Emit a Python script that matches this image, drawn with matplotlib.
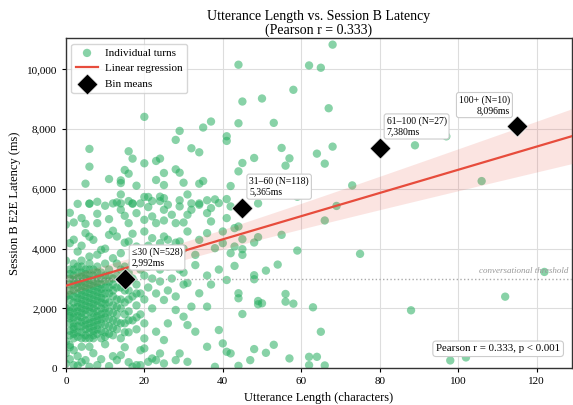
import numpy as np
import matplotlib.pyplot as plt
from matplotlib.ticker import FuncFormatter

plt.rcParams['font.family'] = ['Liberation Serif', 'DejaVu Serif']

# turns: (length in chars, latency in ms)
short_turns = [
    (0, 150), (0, 500), (0, 900), (0, 1900), (0, 2000), (0, 2400), (0, 3600), (0, 4800),
    (1, 300), (1, 700), (1, 772), (1, 1100), (1, 1250), (1, 1500), (1, 1667), (1, 1750), (1, 1900),
    (1, 2050), (1, 2300), (1, 2450), (1, 2600), (1, 2800), (1, 3000), (1, 3150), (1, 3300), (1, 4184), (1, 5200),
    (2, 100), (2, 600), (2, 1000), (2, 1150), (2, 1300), (2, 1388), (2, 1500), (2, 1700), (2, 1850), (2, 2000),
    (2, 2200), (2, 2400), (2, 2600), (2, 2800), (2, 2950), (2, 3100), (2, 3300), (2, 3500), (2, 4300), (2, 4877),
    (3, 84), (3, 400), (3, 1050), (3, 1200), (3, 1400), (3, 1600), (3, 1750), (3, 1900), (3, 2050), (3, 2200),
    (3, 2350), (3, 2500), (3, 2700), (3, 2850), (3, 3000), (3, 3200), (3, 3400), (3, 3904), (3, 5500),
    (4, 200), (4, 716), (4, 1000), (4, 1200), (4, 1400), (4, 1550), (4, 1700), (4, 1850), (4, 2000), (4, 2150),
    (4, 2300), (4, 2450), (4, 2600), (4, 2750), (4, 2900), (4, 3050), (4, 3200), (4, 3400), (4, 3600), (4, 4100), (4, 5023),
    (5, 269), (5, 1000), (5, 1100), (5, 1300), (5, 1450), (5, 1600), (5, 1800), (5, 1950), (5, 2100), (5, 2250),
    (5, 2400), (5, 2550), (5, 2700), (5, 2850), (5, 3000), (5, 3150), (5, 3300), (5, 4520), (5, 4832), (5, 6175),
    (6, 45), (6, 716), (6, 1000), (6, 1200), (6, 1350), (6, 1500), (6, 1650), (6, 1900), (6, 2050), (6, 2200),
    (6, 2350), (6, 2500), (6, 2650), (6, 2800), (6, 2950), (6, 3100), (6, 3300), (6, 3500), (6, 3736), (6, 4400),
    (6, 5510), (6, 5504), (6, 6745), (6, 7339),
    (7, 500), (7, 1000), (7, 1100), (7, 1250), (7, 1400), (7, 1550), (7, 1700), (7, 1850), (7, 2000), (7, 2150),
    (7, 2300), (7, 2450), (7, 2600), (7, 2750), (7, 2900), (7, 3100), (7, 3300), (7, 4295),
    (8, 101), (8, 1150), (8, 1300), (8, 1450), (8, 1600), (8, 1750), (8, 1900), (8, 2100), (8, 2250), (8, 2400),
    (8, 2550), (8, 2700), (8, 2850), (8, 3000), (8, 3200), (8, 3400), (8, 3800), (8, 4855), (8, 5168), (8, 5570),
    (9, 300), (9, 1000), (9, 1250), (9, 1500), (9, 1650), (9, 1800), (9, 2000), (9, 2200), (9, 2350), (9, 2500),
    (9, 2650), (9, 2800), (9, 3000), (9, 3200), (9, 3960),
    (10, 800), (10, 1050), (10, 1200), (10, 1450), (10, 1700), (10, 1850), (10, 2000), (10, 2150), (10, 2300),
    (10, 2500), (10, 2700), (10, 2900), (10, 3100), (10, 3500), (10, 4000), (10, 5437),
    (11, 67), (11, 1150), (11, 1400), (11, 1650), (11, 1900), (11, 2200), (11, 2500), (11, 2700), (11, 2900),
    (11, 3100), (11, 3300), (11, 4463), (11, 4988), (11, 6331),
    (12, 400), (12, 1100), (12, 1350), (12, 1600), (12, 1850), (12, 2100), (12, 2400), (12, 2600), (12, 2800),
    (12, 3000), (12, 3680), (12, 4600), (12, 5515),
    (13, 269), (13, 1300), (13, 1550), (13, 1800), (13, 2050), (13, 2300), (13, 2700), (13, 3100), (13, 3500),
    (13, 4407), (13, 5549),
    (14, 436), (14, 1000), (14, 1500), (14, 2000), (14, 2300), (14, 2700), (14, 3000), (14, 3300), (14, 3848),
    (14, 5302), (14, 5515), (14, 5815), (14, 6197), (14, 6286),
    (15, 700), (15, 1200), (15, 1500), (15, 1800), (15, 2200), (15, 2600), (15, 2900), (15, 3400), (15, 4200),
    (15, 5101), (15, 6633),
    (16, 200), (16, 1200), (16, 1600), (16, 1900), (16, 2300), (16, 2600), (16, 3200), (16, 4240), (16, 4855),
    (16, 5593), (16, 6510), (16, 7261),
    (17, 45), (17, 1600), (17, 2400), (17, 3000), (17, 3500), (17, 4500), (17, 5504), (17, 5515), (17, 7014),
    (18, 101), (18, 1300), (18, 1700), (18, 2100), (18, 2500), (18, 2800), (18, 4072), (18, 5190), (18, 6108),
    (19, 101), (19, 600), (19, 1800), (19, 2500), (19, 3300), (19, 3900), (19, 5515),
    (20, 660), (20, 995), (20, 1500), (20, 2300), (20, 3100), (20, 3624), (20, 4575), (20, 4966), (20, 5730),
    (20, 6858), (20, 8413),
    (21, 213), (21, 2700), (21, 3400), (21, 4100), (21, 5392), (21, 5730),
    (22, 324), (22, 2000), (22, 3000), (22, 3960), (22, 4351), (22, 5079), (22, 5593),
    (23, 269), (23, 1220), (23, 2500), (23, 3500), (23, 3800), (23, 4855), (23, 6298), (23, 6936),
    (24, 492), (24, 2900), (24, 3300), (24, 4184), (24, 5593), (24, 5740), (24, 7014),
    (25, 157), (25, 940), (25, 2282), (25, 4407), (25, 4944), (25, 5302), (25, 5690), (25, 6130), (25, 6533),
    (26, 1499), (26, 2600), (26, 3400), (26, 4300), (26, 5470),
    (27, 3000), (27, 4016), (27, 5135),
    (28, 269), (28, 1947), (28, 2400), (28, 3500), (28, 4200), (28, 4855), (28, 6656), (28, 7641),
    (29, 492), (29, 3300), (29, 4240), (29, 5414), (29, 5620), (29, 6544), (29, 7942),
    (30, 1723), (30, 2800), (30, 3200), (30, 4000), (30, 4877), (30, 6208),
]
mid_turns = [
    (31, 212), (31, 1443), (31, 2850), (31, 4575), (31, 5135), (31, 5815),
    (32, 2059), (32, 5302), (32, 5515), (32, 7361),
    (33, 1220), (33, 3450), (33, 3792),
    (34, 2506), (34, 4295), (34, 5470), (34, 5515), (34, 6175), (34, 7226),
    (35, 6264), (35, 8055),
    (36, 716), (36, 2059), (36, 3100), (36, 4520), (36, 5190), (36, 5620),
    (37, 2800), (37, 4911), (37, 5358), (37, 8256),
    (38, 45), (38, 4016), (38, 5650),
    (39, 1276), (39, 3300), (39, 5526),
    (40, 828), (40, 4184), (40, 4575),
    (41, 548), (41, 2950), (41, 5023), (41, 5660), (41, 7607), (41, 7763),
    (42, 493), (42, 3848), (42, 5414), (42, 6097),
    (43, 3423), (43, 4072), (43, 4687),
    (44, 77), (44, 2339), (44, 2507), (44, 4742), (44, 6588), (44, 8198), (44, 10158),
    (45, 1812), (45, 3792), (45, 3983), (45, 4318), (45, 6868), (45, 8926),
    (47, 268), (48, 638), (48, 2976), (48, 3110), (48, 4206), (48, 7036),
    (49, 2137), (49, 2248), (49, 4385), (49, 5514), (50, 2170), (50, 9027),
    (51, 513), (51, 3265), (53, 782), (53, 8211), (54, 3467),
    (55, 4463), (55, 7372), (56, 2225), (56, 2483), (56, 6779),
    (57, 325), (57, 7024), (58, 2158), (58, 9318), (59, 3936), (59, 5738),
]
long_turns = [
    (62, 100), (62, 379), (62, 10134), (63, 2037), (64, 379), (64, 7181),
    (65, 1218), (65, 10057), (66, 90), (66, 4943), (66, 6846), (67, 8701),
    (68, 7416), (68, 10830), (69, 5430), (73, 6118), (75, 3826),
    (88, 1936), (89, 7460), (97, 7760), (98, 258),
]
longest_turns = [(102, 359), (106, 6262), (112, 2393), (122, 3221)]

# bin means as annotated
bin_labels = ['\u226430 (N=528)', '31\u201360 (N=118)', '61\u2013100 (N=27)', '100+ (N=10)']
bin_len = [15, 45, 80, 115]
bin_ms = [2992, 5365, 7380, 8096]

# regression
reg_intercept = 2760
reg_slope = 38.8
ci_center = 20
ci_se = 288
ci_spread = 36
threshold_ms = 3000

pts = np.array(short_turns + mid_turns + long_turns + longest_turns, dtype=float)

fig = plt.figure(figsize=(5.73, 4.05), dpi=100)
ax = fig.add_axes([0.115, 0.091, 0.883, 0.815])

ax.grid(True, color='#dddddd', linewidth=0.8, zorder=0)
ax.set_axisbelow(True)

ax.scatter(pts[:, 0], pts[:, 1], s=36, color='#27ae60', alpha=0.55,
           edgecolors='none', label='Individual turns', zorder=2)

xs = np.linspace(0, 130, 200)
fit = reg_intercept + reg_slope * xs
half = ci_se * np.sqrt(1 + ((xs - ci_center) / ci_spread) ** 2)
ax.fill_between(xs, fit - half, fit + half, color='#e74c3c', alpha=0.15,
                linewidth=0, zorder=3)
ax.plot(xs, fit, color='#e74c3c', linewidth=1.6, label='Linear regression', zorder=4)

ax.axhline(threshold_ms, color='#aaaaaa', linestyle=':', linewidth=1.0, zorder=3)
ax.text(128, threshold_ms + 120, 'conversational threshold', ha='right', va='bottom',
        fontsize=6.5, style='italic', color='#999999', zorder=5)

ax.scatter(bin_len, bin_ms, marker='D', s=115, color='black', edgecolors='white',
           linewidths=0.5, label='Bin means', zorder=6)
for lab, bx, by in zip(bin_labels, bin_len, bin_ms):
    txt = f'{lab}\n{by:,}ms'
    right = bx > 100
    ax.annotate(txt, (bx, by), xytext=(-5 if right else 5, 8), textcoords='offset points',
                ha='right' if right else 'left', va='bottom', fontsize=7,
                multialignment='right' if right else 'left',
                bbox=dict(boxstyle='round,pad=0.25', fc='white', ec='#cccccc', lw=0.8),
                zorder=7)

ax.text(0.977, 0.045, 'Pearson r = 0.333, p < 0.001', transform=ax.transAxes,
        ha='right', va='bottom', fontsize=7.8,
        bbox=dict(boxstyle='round,pad=0.3', fc='white', ec='#cccccc', lw=0.8), zorder=7)

ax.set_xlim(0, 129)
ax.set_ylim(0, 11050)
ax.set_xticks(np.arange(0, 121, 20))
ax.set_yticks(np.arange(0, 10001, 2000))
ax.yaxis.set_major_formatter(FuncFormatter(lambda v, p: f'{int(v):,}'))
ax.tick_params(labelsize=8, length=3)
for sp in ax.spines.values():
    sp.set_color('#333333')
    sp.set_linewidth(1.0)

ax.set_xlabel('Utterance Length (characters)', fontsize=9, labelpad=4)
ax.set_ylabel('Session B E2E Latency (ms)', fontsize=9, labelpad=4)
ax.set_title('Utterance Length vs. Session B Latency\n(Pearson r = 0.333)', fontsize=10,
             linespacing=1.1, pad=3)

leg = ax.legend(loc='upper left', fontsize=8, frameon=True, fancybox=True,
                edgecolor='#cccccc', borderpad=0.4, handlelength=2.0, handletextpad=0.6)

fig.savefig('out.png', dpi=100)
